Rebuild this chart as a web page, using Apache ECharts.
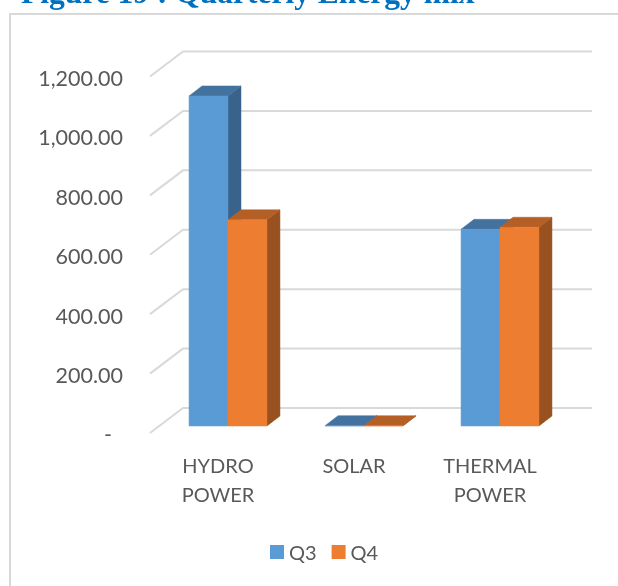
<!DOCTYPE html>
<html><head><meta charset="utf-8">
<style>html,body{margin:0;padding:0;background:#fff}#c{width:618px;height:586px}</style>
<script src="https://cdn.jsdelivr.net/npm/echarts@6/dist/echarts.min.js"></script>
</head><body><div id="c"></div>
<script>
const categories = ['HYDRO\nPOWER', 'SOLAR', 'THERMAL\nPOWER'];
const q3Values = [1111, 1, 662];
const q4Values = [694, 1, 669];
const ticks = [0, 200, 400, 600, 800, 1000, 1200];
const chart = echarts.init(document.getElementById('c'));
const FONT = 'Lato';
const GREY = '#595959';
function wall(params, api) {
  const y = api.coord([0, api.value(0)])[1];
  const left = params.coordSys.x, right = left + params.coordSys.width;
  return {type: 'polyline', shape: {points: [[left, y], [left + 33, y - 25], [right + 34, y - 25]]},
    style: {fill: 'none', stroke: '#d9d9d9', lineWidth: 2}, silent: true};
}
function bar3d(sign, front, side, top) {
  return function (params, api) {
    const base = api.coord([api.value(0), 0]);
    const val = api.coord([api.value(0), api.value(1)]);
    const w = api.size([1, 0])[0] * 0.2865;
    const ox = 10, oy = 7, dx = 13, dy = 10;
    const x0 = base[0] + ox + (sign < 0 ? -w : 0), x1 = x0 + w;
    const yb = base[1] - oy, yt = val[1] - oy;
    const poly = (pts, fill) => ({type: 'polygon', shape: {points: pts}, style: {fill, stroke: fill, lineWidth: 0.5}});
    return {type: 'group', children: [
      poly([[x1, yb], [x1 + dx, yb - dy], [x1 + dx, yt - dy], [x1, yt]], side),
      poly([[x0, yt], [x0 + dx, yt - dy], [x1 + dx, yt - dy], [x1, yt]], top),
      poly([[x0, yb], [x1, yb], [x1, yt], [x0, yt]], front)
    ]};
  };
}
chart.setOption({
  animation: false,
  title: {text: 'Figure 19 : Quarterly Energy mix', left: 16, top: -26,
    textStyle: {fontFamily: 'Liberation Serif', fontWeight: 'bold', fontSize: 31.5, color: '#0070c0'}},
  grid: {left: 150, width: 408, top: 76.5, height: 356.5},
  legend: {data: ['Q3', 'Q4'], left: 265, top: 539, itemWidth: 14, itemHeight: 14, itemGap: 15, icon: 'rect',
    formatter: '{a|{name}}',
    textStyle: {rich: {a: {fontFamily: FONT, fontSize: 20, color: GREY, padding: [4, 0, 0, 0]}}}},
  xAxis: {type: 'category', data: categories, axisLine: {show: false}, axisTick: {show: false}, splitLine: {show: false},
    axisLabel: {fontFamily: FONT, fontSize: 20, color: GREY, lineHeight: 29, margin: 19, interval: 0}},
  yAxis: {type: 'value', min: 0, max: 1200, interval: 200, axisLine: {show: false}, axisTick: {show: false}, splitLine: {show: false},
    axisLabel: {fontFamily: FONT, fontSize: 21.5, color: GREY, margin: 27, verticalAlign: 'top', lineHeight: 5,
      formatter: v => v === 0 ? '-  ' : v.toLocaleString('en-US', {minimumFractionDigits: 2, maximumFractionDigits: 2})}},
  series: [
    {type: 'custom', name: 'walls', data: ticks.map(t => [t]), renderItem: wall, encode: {y: 0}, z: 1, silent: true, coordinateSystem: 'cartesian2d'},
    {type: 'custom', name: 'Q3', itemStyle: {color: '#5b9bd5'}, data: q3Values.map((v, i) => [i, v]), encode: {x: 0, y: 1}, z: 2,
      renderItem: bar3d(-1, '#5b9bd5', '#3a638b', '#44729f')},
    {type: 'custom', name: 'Q4', itemStyle: {color: '#ed7d31'}, data: q4Values.map((v, i) => [i, v]), encode: {x: 0, y: 1}, z: 3,
      renderItem: bar3d(1, '#ed7d31', '#98511f', '#b45f25')}
  ],
  graphic: [{type: 'polyline', silent: true, z: 0,
    shape: {points: [[10, 590], [10, 14], [620, 14]]}, style: {fill: 'none', stroke: '#d9d9d9', lineWidth: 2}}]
});
</script></body></html>
